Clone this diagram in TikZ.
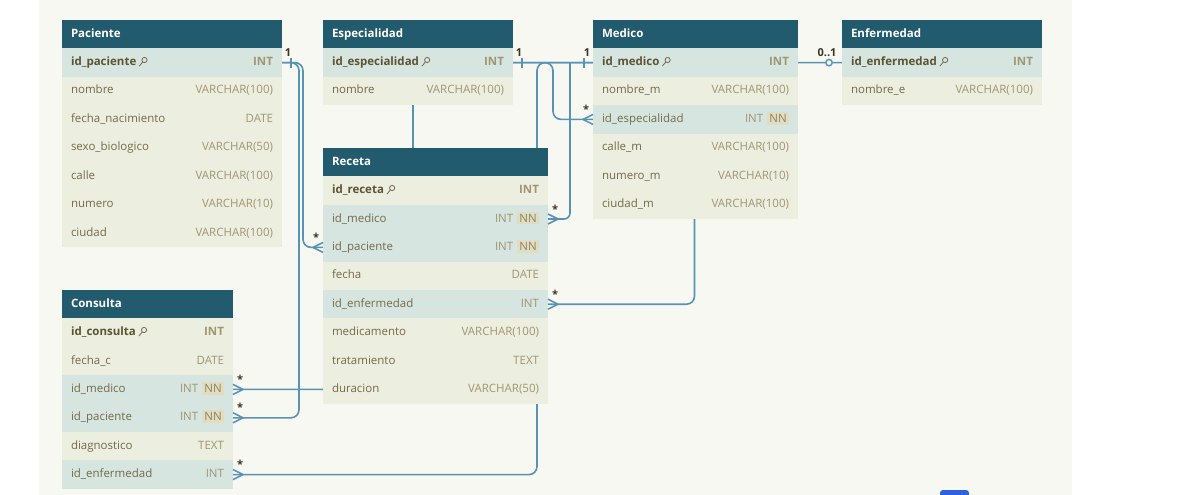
\documentclass[tikz,border=0pt]{standalone}
\usepackage{fontspec}
\setmainfont{Open Sans}
\usetikzlibrary{calc}
\definecolor{bgc}{HTML}{F7F8F1}
\definecolor{hdrc}{HTML}{235B6E}
\definecolor{creamc}{HTML}{ECEEDF}
\definecolor{tealc}{HTML}{D7E5E0}
\definecolor{fldc}{HTML}{746A49}
\definecolor{pkc}{HTML}{5C5432}
\definecolor{typc}{HTML}{A09672}
\definecolor{nnbg}{HTML}{E2DCC2}
\definecolor{nnc}{HTML}{8E845F}
\definecolor{linec}{HTML}{5893B5}
\definecolor{cardc}{HTML}{3B3622}
\definecolor{iconc}{HTML}{2C62DE}
\pgfdeclarelayer{bglayer}
\pgfdeclarelayer{linelayer}
\pgfsetlayers{bglayer,linelayer,main}
\newcommand\nnbox{\hspace{4pt}{\setlength\fboxsep{2.2pt}\colorbox{nnbg}{\textcolor{nnc}{NN}}}}
\tikzset{
 rowbox/.style={draw=none, minimum height=28.4pt, inner sep=0pt, outer sep=0pt, anchor=north west},
 txt/.style={inner sep=0pt, outer sep=0pt, text height=8.5pt, text depth=2.5pt},
 plain-name/.style={txt, font=\fontsize{11.5}{13}\selectfont, text=fldc, anchor=west},
 pk-name/.style={txt, font=\fontsize{11.5}{13}\selectfont\bfseries, text=pkc, anchor=west},
 plain-type/.style={txt, font=\fontsize{11.5}{13}\selectfont, text=typc, anchor=east},
 pk-type/.style={txt, font=\fontsize{11.5}{13}\selectfont\bfseries, text=typc, anchor=east},
 hdrtext/.style={txt, font=\fontsize{11.5}{13}\selectfont\bfseries, text=white, anchor=west},
 conn/.style={draw=linec, line width=1.6pt, rounded corners=8pt},
 footst/.style={draw=linec, line width=1.6pt},
 tickst/.style={draw=linec, line width=1.4pt},
 card/.style={inner sep=0pt, font=\fontsize{11}{12}\selectfont\bfseries, text=cardc},
 keyst/.style={draw=fldc, line width=0.8pt},
}
\newcommand\dbhead[5]{%
 \node[rowbox, fill=hdrc, minimum width=#4pt] (#1) at (#2,#3) {};
 \node[hdrtext] (#1h) at ([xshift=9pt]#1.west) {#5};}
\newcommand\dbrow[8]{%
 \node[rowbox, fill=#5, minimum width=#4pt] (#1) at (#2,#3) {};
 \node[#6-name] (#1n) at ([xshift=9pt]#1.west) {#7};
 \node[#6-type] (#1t) at ([xshift=-9pt]#1.east) {#8};}
\newcommand\keyicon[1]{%
 \draw[keyst] ($(#1.east)+(3,3.5)$) -- ($(#1.east)+(6.4,-0.6)$);
 \draw[keyst] ($(#1.east)+(8.2,-2.6)$) circle (2.6pt);}
\newcommand\crow[2]{%
 \draw[footst] ($(#1)+(#2*10,0)$) -- ($(#1)+(0,-5)$) ($(#1)+(#2*10,0)$) -- ($(#1)+(0,5)$);
 \node[card] at ($(#1)+(#2*7,-10)$) {*};}
\newcommand\one[2]{%
 \draw[tickst] ($(#1)+(#2*9,-5)$) -- ($(#1)+(#2*9,5)$);
 \node[card] at ($(#1)+(#2*6,-10)$) {1};}
\begin{document}
\begin{tikzpicture}[x=1pt,y=-1pt]
\useasboundingbox (0,0) rectangle (1179,495);
\begin{pgfonlayer}{bglayer}
\fill[white] (0,0) rectangle (1179,495);
\fill[bgc] (39,0) rectangle (1072,495);
\fill[iconc, rounded corners=3pt] (940,490) rectangle (969,503);
\end{pgfonlayer}
% Paciente
\dbhead{pac}{62}{20}{220}{Paciente}
\dbrow{pac1}{62}{48.4}{220}{tealc}{pk}{id\_paciente}{INT}
\dbrow{pac2}{62}{76.8}{220}{creamc}{plain}{nombre}{VARCHAR(100)}
\dbrow{pac3}{62}{105.2}{220}{creamc}{plain}{fecha\_nacimiento}{DATE}
\dbrow{pac4}{62}{133.6}{220}{creamc}{plain}{sexo\_biologico}{VARCHAR(50)}
\dbrow{pac5}{62}{162}{220}{creamc}{plain}{calle}{VARCHAR(100)}
\dbrow{pac6}{62}{190.4}{220}{creamc}{plain}{numero}{VARCHAR(10)}
\dbrow{pac7}{62}{218.8}{220}{creamc}{plain}{ciudad}{VARCHAR(100)}
% Especialidad
\dbhead{esp}{323}{20}{190}{Especialidad}
\dbrow{esp1}{323}{48.4}{190}{tealc}{pk}{id\_especialidad}{INT}
\dbrow{esp2}{323}{76.8}{190}{creamc}{plain}{nombre}{VARCHAR(100)}
% Medico
\dbhead{med}{593}{20}{205}{Medico}
\dbrow{med1}{593}{48.4}{205}{tealc}{pk}{id\_medico}{INT}
\dbrow{med2}{593}{76.8}{205}{creamc}{plain}{nombre\_m}{VARCHAR(100)}
\dbrow{med3}{593}{105.2}{205}{tealc}{plain}{id\_especialidad}{INT\nnbox}
\dbrow{med4}{593}{133.6}{205}{creamc}{plain}{calle\_m}{VARCHAR(100)}
\dbrow{med5}{593}{162}{205}{creamc}{plain}{numero\_m}{VARCHAR(10)}
\dbrow{med6}{593}{190.4}{205}{creamc}{plain}{ciudad\_m}{VARCHAR(100)}
% Enfermedad
\dbhead{enf}{842}{20}{200}{Enfermedad}
\dbrow{enf1}{842}{48.4}{200}{tealc}{pk}{id\_enfermedad}{INT}
\dbrow{enf2}{842}{76.8}{200}{creamc}{plain}{nombre\_e}{VARCHAR(100)}
% Receta
\dbhead{rec}{323}{148}{225}{Receta}
\dbrow{rec1}{323}{176.4}{225}{creamc}{pk}{id\_receta}{INT}
\dbrow{rec2}{323}{204.8}{225}{tealc}{plain}{id\_medico}{INT\nnbox}
\dbrow{rec3}{323}{233.2}{225}{tealc}{plain}{id\_paciente}{INT\nnbox}
\dbrow{rec4}{323}{261.6}{225}{creamc}{plain}{fecha}{DATE}
\dbrow{rec5}{323}{290}{225}{tealc}{plain}{id\_enfermedad}{INT}
\dbrow{rec6}{323}{318.4}{225}{creamc}{plain}{medicamento}{VARCHAR(100)}
\dbrow{rec7}{323}{346.8}{225}{creamc}{plain}{tratamiento}{TEXT}
\dbrow{rec8}{323}{375.2}{225}{creamc}{plain}{duracion}{VARCHAR(50)}
% Consulta
\dbhead{con}{62}{290}{171}{Consulta}
\dbrow{con1}{62}{318.4}{171}{creamc}{pk}{id\_consulta}{INT}
\dbrow{con2}{62}{346.8}{171}{creamc}{plain}{fecha\_c}{DATE}
\dbrow{con3}{62}{375.2}{171}{tealc}{plain}{id\_medico}{INT\nnbox}
\dbrow{con4}{62}{403.6}{171}{tealc}{plain}{id\_paciente}{INT\nnbox}
\dbrow{con5}{62}{432}{171}{creamc}{plain}{diagnostico}{TEXT}
\dbrow{con6}{62}{460.4}{171}{tealc}{plain}{id\_enfermedad}{INT}
% key icons
\keyicon{pac1n}\keyicon{esp1n}\keyicon{med1n}\keyicon{enf1n}\keyicon{rec1n}\keyicon{con1n}
% connectors (behind tables)
\begin{pgfonlayer}{linelayer}
\draw[conn] (pac1.east) -- ($(pac1.east)+(21,0)$) |- (rec3.west);
\draw[conn] (pac1.east) -- ($(pac1.east)+(17,0)$) |- (con4.east);
\draw[conn] (con3.east) -| ($(esp1.center)+(-5,0)$) -- (med1.west);
\draw[conn] (con6.east) -| ($(med1.west)+(-56,0)$) -- (med1.west);
\draw[conn] (esp1.east) -- ($(med1.west)+(-40,0)$) |- (med3.west);
\draw[conn, sharp corners] (med1.west) -- ($(med1.west)+(-23,0)$);
\draw[conn, rounded corners=6pt] ($(med1.west)+(-23,0)$) |- (rec2.east);
\draw[conn] (rec5.east) -| ($(med1.center)+(-1,0)$) -- (enf1.west);
\end{pgfonlayer}
% cardinalities
\crow{rec3.west}{-1}
\crow{con4.east}{1}
\crow{con3.east}{1}
\crow{con6.east}{1}
\crow{med3.west}{-1}
\crow{rec2.east}{1}
\crow{rec5.east}{1}
\one{pac1.east}{1}
\one{esp1.east}{1}
\one{med1.west}{-1}
\draw[tickst, fill=bgc] ($(enf1.west)+(-13,0)$) circle (3.2pt);
\node[card] (zo) at ($(enf1.west)+(-15,-10)$) {0..1};
\end{tikzpicture}
\end{document}
